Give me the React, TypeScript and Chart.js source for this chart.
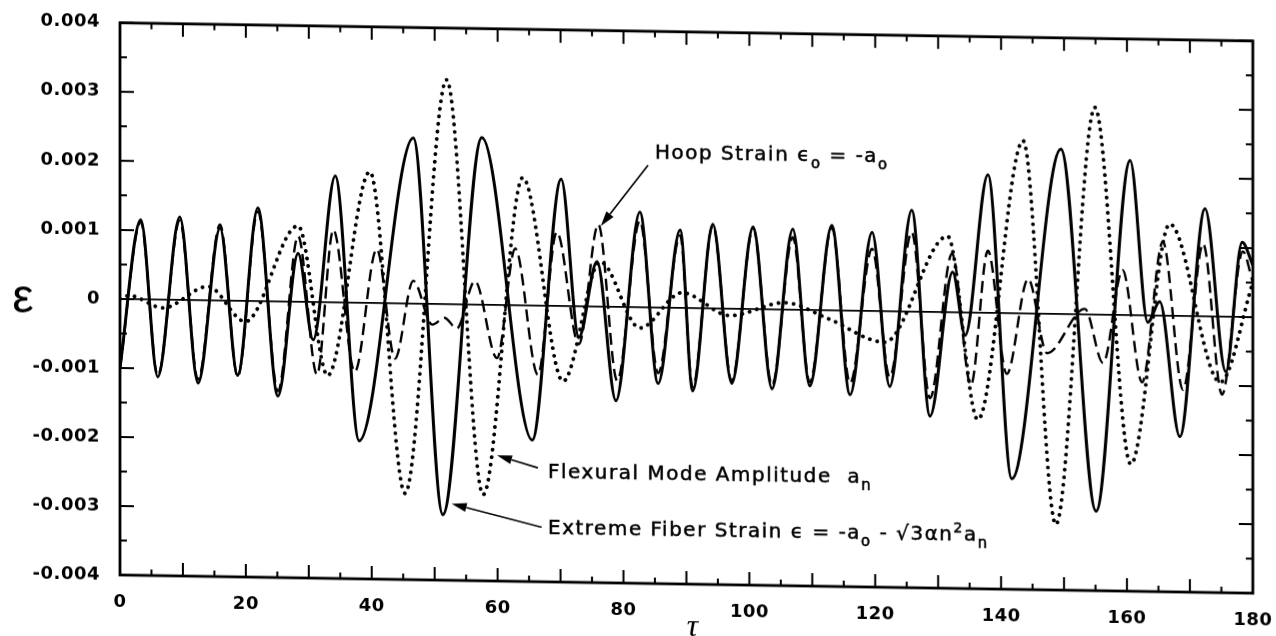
import { useEffect, useRef } from "react";
import { Chart, registerables } from "chart.js";

Chart.register(...registerables);

// Axis ranges and tick spacing
const TAU_MIN = 0;
const TAU_MAX = 180;
const EPS_MIN = -0.004;
const EPS_MAX = 0.004;
const TAU_LABEL_STEP = 20;
const TAU_MAJOR_TICK = 10;
const TAU_MINOR_TICK = 5;
const EPS_LABEL_STEP = 0.001;
const EPS_MINOR_TICK = 0.0005;

// Extreme fiber strain  ε = -a0 - √3·α·n²·a_n  (turning points of the solid curve)
const fiberTau = [
  0, 3.3, 6.0, 9.5, 12.4, 15.9, 18.7, 21.9, 25.1, 28.3,
  30.7, 34.2, 38.0, 46.6, 51.3, 57.5, 65.5, 70.1, 72.9, 75.8,
  78.8, 82.6, 85.5, 89.0, 91.0, 94.2, 97.2, 100.6, 103.6, 106.9,
  109.6, 113.1, 116.0, 119.5, 122.3, 125.8, 128.7, 132.3, 134.3, 137.9,
  141.7, 149.5, 155.1, 160.5, 163.3, 165.2, 168.4, 172.4, 175.7, 178.3,
  180,
];
const fiberEps = [
  -0.00100, 0.00115, -0.00112, 0.00120, -0.00120, 0.00105, -0.00108, 0.00135, -0.00137, 0.00070,
  -0.00055, 0.00183, -0.00200, 0.00240, -0.00305, 0.00242, -0.00195, 0.00184, -0.00045, 0.00065,
  -0.00136, 0.00138, -0.00110, 0.00113, -0.00120, 0.00122, -0.00108, 0.00119, -0.00115, 0.00117,
  -0.00110, 0.00123, -0.00122, 0.00114, -0.00109, 0.00147, -0.00151, 0.00058, -0.00033, 0.00200,
  -0.00240, 0.00239, -0.00285, 0.00224, -0.00010, 0.00020, -0.00175, 0.00156, -0.00080, 0.00108,
  0.00075,
];

// Hoop strain  ε0 = -a0  (dashed curve)
const hoopTau = [
  0, 3.3, 6.0, 9.5, 12.4, 15.9, 18.7, 21.9, 25.1, 28.3,
  31.3, 33.9, 37.3, 40.8, 43.7, 46.6, 49.6, 51.6, 53.5, 56.4,
  59.9, 62.8, 66.4, 69.4, 72.9, 76.0, 79.0, 82.6, 85.5, 89.0,
  91.0, 94.2, 97.2, 100.6, 103.6, 106.9, 109.6, 113.1, 116.0, 119.5,
  122.3, 125.8, 128.7, 132.2, 135.2, 137.9, 140.9, 144.3, 147.3, 153.3,
  156.2, 159.3, 162.4, 165.7, 168.9, 172.1, 175.1, 178.4, 180,
];
const hoopEps = [
  -0.00100, 0.00112, -0.00110, 0.00115, -0.00115, 0.00110, -0.00110, 0.00130, -0.00130, 0.00095,
  -0.00105, 0.00105, -0.00100, 0.00078, -0.00080, 0.00033, -0.00030, -0.00020, -0.00035, 0.00034,
  -0.00077, 0.00082, -0.00100, 0.00107, -0.00055, 0.00119, -0.00107, 0.00125, -0.00095, 0.00105,
  -0.00115, 0.00120, -0.00105, 0.00117, -0.00110, 0.00105, -0.00105, 0.00120, -0.00105, 0.00090,
  -0.00095, 0.00115, -0.00125, 0.00085, -0.00105, 0.00090, -0.00088, 0.00050, -0.00057, 0.00008,
  -0.00070, 0.00065, -0.00097, 0.00107, -0.00107, 0.00105, -0.00113, 0.00095, 0.00050,
];

// Flexural mode amplitude a_n  (dotted curve)
const flexTau = [
  0, 1.5, 6.8, 14.0, 19.9, 28.3, 33.0, 39.7, 45.3, 51.9,
  57.7, 64.0, 70.4, 76.3, 82.6, 89.3, 96.9, 105.6, 112.5, 121.5,
  131.5, 136.3, 143.5, 148.7, 154.9, 160.6, 166.8, 174.8, 180,
];
const flexEps = [
  0, 0.00005, -0.00012, 0.00020, -0.00030, 0.00110, -0.00106, 0.00190, -0.00275, 0.00325,
  -0.00275, 0.00185, -0.00109, 0.00065, -0.00030, 0.00022, -0.00010, 0.00010, -0.00012, -0.00045,
  0.00110, -0.00155, 0.00250, -0.00305, 0.00300, -0.00216, 0.00133, -0.00095, 0.00050,
];

type Seg = { t: string; dy?: number; size?: number };

// Callouts: arrow tip, arrow tail and text start in (τ, ε) coordinates
const callouts: { tip: [number, number]; tail: [number, number]; at: [number, number]; parts: Seg[] }[] = [
  {
    tip: [76.4, 0.00117],
    tail: [83.9, 0.00206],
    at: [85.0, 0.00215],
    parts: [{ t: "Hoop Strain ϵ" }, { t: "o", dy: 7, size: 15 }, { t: " = -a" }, { t: "o", dy: 7, size: 15 }],
  },
  {
    tip: [59.9, -0.00218],
    tail: [66.4, -0.00235],
    at: [68.0, -0.0025],
    parts: [{ t: "Flexural Mode Amplitude  a" }, { t: "n", dy: 7, size: 15 }],
  },
  {
    tip: [52.7, -0.00289],
    tail: [67.0, -0.00321],
    at: [68.0, -0.00331],
    parts: [
      { t: "Extreme Fiber Strain ϵ = -a" },
      { t: "o", dy: 7, size: 15 },
      { t: " - √3αn" },
      { t: "2", dy: -8, size: 14 },
      { t: "a" },
      { t: "n", dy: 7, size: 15 },
    ],
  },
];

const toPoints = (xs: number[], ys: number[]) => xs.map((x, i) => ({ x, y: ys[i] }));
const fmtEps = (v: number) => (Math.abs(v) < 1e-9 ? "0" : v.toFixed(3));

const FONT = '"DejaVu Sans"';

function drawRich(ctx: CanvasRenderingContext2D, x: number, y: number, segs: Seg[], base: number) {
  let cx = x;
  for (const s of segs) {
    ctx.font = `${s.size ?? base}px ${FONT}`;
    ctx.fillText(s.t, cx, y + (s.dy ?? 0));
    ctx.strokeText(s.t, cx, y + (s.dy ?? 0));
    cx += ctx.measureText(s.t).width;
  }
}

const framePlugin = {
  id: "frameTicks",
  beforeDraw(chart: any) {
    (chart.ctx as any).letterSpacing = "0.5px";
  },
  beforeDatasetsDraw(chart: any) {
    const { ctx, chartArea: a, scales } = chart;
    const y0 = scales.y.getPixelForValue(0);
    ctx.save();
    ctx.strokeStyle = "#000";
    ctx.lineWidth = 1.6;
    ctx.beginPath();
    ctx.moveTo(a.left, y0);
    ctx.lineTo(a.right, y0);
    ctx.stroke();
    ctx.restore();
  },
  afterDraw(chart: any) {
    const { ctx, chartArea: a, scales } = chart;
    const xs = scales.x;
    const ys = scales.y;
    ctx.save();
    ctx.strokeStyle = "#000";
    ctx.fillStyle = "#000";
    ctx.setLineDash([]);

    // frame
    ctx.lineWidth = 2.8;
    ctx.strokeRect(a.left, a.top, a.right - a.left, a.bottom - a.top);

    // inward tick marks
    ctx.lineWidth = 2;
    ctx.beginPath();
    for (let t = TAU_MIN; t <= TAU_MAX + 1e-9; t += TAU_MINOR_TICK) {
      const x = xs.getPixelForValue(t);
      const len = Math.abs(t / TAU_MAJOR_TICK - Math.round(t / TAU_MAJOR_TICK)) < 1e-6 ? 13 : 6;
      ctx.moveTo(x, a.bottom);
      ctx.lineTo(x, a.bottom - len);
      ctx.moveTo(x, a.top);
      ctx.lineTo(x, a.top + len);
    }
    const nY = Math.round((EPS_MAX - EPS_MIN) / EPS_MINOR_TICK);
    for (let i = 0; i <= nY; i++) {
      const v = EPS_MIN + i * EPS_MINOR_TICK;
      const y = ys.getPixelForValue(v);
      const len = i % 2 === 0 ? 14 : 7;
      ctx.moveTo(a.left, y);
      ctx.lineTo(a.left + len, y);
      ctx.moveTo(a.right, y);
      ctx.lineTo(a.right - len, y);
    }
    ctx.stroke();

    // callouts
    (ctx as any).letterSpacing = "1.5px";
    ctx.textAlign = "left";
    ctx.textBaseline = "alphabetic";
    for (const c of callouts) {
      const tx = xs.getPixelForValue(c.tip[0]);
      const ty = ys.getPixelForValue(c.tip[1]);
      const sx = xs.getPixelForValue(c.tail[0]);
      const sy = ys.getPixelForValue(c.tail[1]);
      const ang = Math.atan2(ty - sy, tx - sx);
      const hl = 15;
      const hw = 4.5;
      const bx = tx - hl * Math.cos(ang);
      const by = ty - hl * Math.sin(ang);
      ctx.lineWidth = 1.6;
      ctx.beginPath();
      ctx.moveTo(sx, sy);
      ctx.lineTo(bx, by);
      ctx.stroke();
      ctx.beginPath();
      ctx.moveTo(tx, ty);
      ctx.lineTo(bx + hw * Math.sin(ang), by - hw * Math.cos(ang));
      ctx.lineTo(bx - hw * Math.sin(ang), by + hw * Math.cos(ang));
      ctx.closePath();
      ctx.fill();
      ctx.lineWidth = 0.5;
      drawRich(ctx, xs.getPixelForValue(c.at[0]), ys.getPixelForValue(c.at[1]), c.parts, 20);
    }

    // axis symbols
    (ctx as any).letterSpacing = "0px";
    ctx.textAlign = "center";
    ctx.textBaseline = "middle";
    ctx.font = '48px "Liberation Sans"';
    ctx.fillText("ε", 23, ys.getPixelForValue(0) + 2);
    ctx.textBaseline = "alphabetic";
    ctx.font = 'italic 32px "Liberation Serif"';
    ctx.fillText("τ", xs.getPixelForValue((TAU_MIN + TAU_MAX) / 2) + 6, 627);
    ctx.restore();
  },
};

export default function App() {
  const ref = useRef<HTMLCanvasElement>(null);

  useEffect(() => {
    const canvas = ref.current;
    if (!canvas) return;
    const tickFont = { family: FONT, size: 18, weight: "bold" };
    const chart = new Chart(canvas, {
      type: "line",
      data: {
        datasets: [
          {
            label: "Extreme Fiber Strain",
            data: toPoints(fiberTau, fiberEps),
            borderColor: "#000",
            borderWidth: 3,
            pointRadius: 0,
            cubicInterpolationMode: "monotone",
            fill: false,
          },
          {
            label: "Hoop Strain",
            data: toPoints(hoopTau, hoopEps),
            borderColor: "#000",
            borderWidth: 2.4,
            borderDash: [12, 6],
            pointRadius: 0,
            cubicInterpolationMode: "monotone",
            fill: false,
          },
          {
            label: "Flexural Mode Amplitude",
            data: toPoints(flexTau, flexEps),
            borderColor: "#000",
            borderWidth: 3.8,
            borderDash: [0.1, 7.5],
            borderCapStyle: "round",
            pointRadius: 0,
            cubicInterpolationMode: "monotone",
            fill: false,
          },
        ],
      },
      options: {
        responsive: false,
        animation: false,
        devicePixelRatio: 1,
        events: [],
        layout: { padding: { top: 20, right: 23, left: 0, bottom: 0 } },
        plugins: { legend: { display: false }, tooltip: { enabled: false } },
        scales: {
          x: {
            type: "linear",
            min: TAU_MIN,
            max: TAU_MAX,
            grid: { display: false },
            border: { display: false },
            ticks: {
              stepSize: TAU_LABEL_STEP,
              padding: 9,
              color: "#000",
              font: tickFont,
              maxRotation: 0,
              autoSkip: false,
            },
            afterFit: (s: any) => {
              s.height = 61;
              s.paddingLeft = 0;
              s.paddingRight = 0;
            },
          },
          y: {
            type: "linear",
            min: EPS_MIN,
            max: EPS_MAX,
            grid: { display: false },
            border: { display: false },
            ticks: {
              stepSize: EPS_LABEL_STEP,
              padding: 12,
              color: "#000",
              font: tickFont,
              callback: (v: any) => fmtEps(Number(v)),
            },
            afterFit: (s: any) => {
              s.width = 120;
            },
          },
        },
      },
      plugins: [framePlugin],
    } as any);
    return () => chart.destroy();
  }, []);

  return (
    <div style={{ position: "fixed", left: 0, top: 0, width: 1276, height: 636, background: "#fff", overflow: "hidden" }}>
      <canvas
        ref={ref}
        width={1276}
        height={636}
        style={{ display: "block", width: 1276, height: 636, transform: "skewY(0.92deg)", transformOrigin: "120px 0px" }}
      />
    </div>
  );
}
